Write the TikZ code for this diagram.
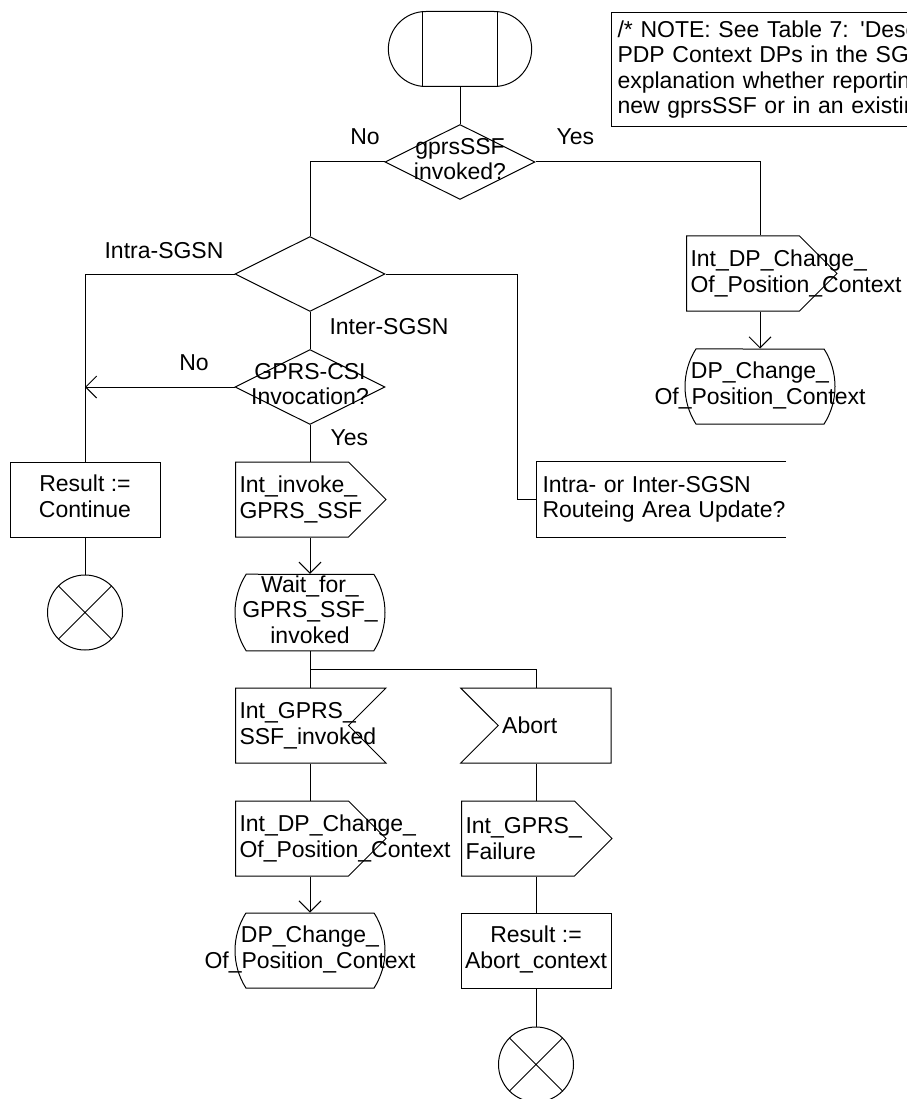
\documentclass[tikz,border=0pt]{standalone}
\usepackage{fontspec}
\setmainfont{Liberation Sans}
\usetikzlibrary{arrows.meta,positioning,calc,shapes.geometric,shapes.misc,shapes.symbols}
\newcommand{\ctrtxt}[1]{\makebox[0pt]{\begin{tabular}{@{}c@{}}#1\end{tabular}}}
\tikzset{
  dec/.style={diamond,draw,minimum width=150pt,minimum height=75pt,inner sep=0pt},
  task/.style={rectangle,draw,minimum width=150pt,minimum height=75pt,inner sep=0pt},
  sdlstate/.style={rounded rectangle,rounded rectangle arc length=65,draw,
                   minimum width=150pt,minimum height=75pt,inner sep=0pt},
  sendsig/.style={signal,signal to=east,signal pointer angle=90,draw,align=left,
                  text width=105pt,inner xsep=4pt,inner ysep=0pt,minimum height=75pt},
  recvsig/.style={signal,signal to=nowhere,signal from=east,signal pointer angle=90,draw,
                  align=left,text width=105pt,inner xsep=4pt,inner ysep=0pt,minimum height=75pt},
  stopsym/.style={circle,draw,minimum size=75pt,inner sep=0pt},
  lbl/.style={inner sep=0pt},
  flow/.style={-{Straight Barb[length=11pt,width=22pt]}}}

\begin{document}
\begin{tikzpicture}[x=1pt,y=-1pt,line width=1pt,font=\fontsize{23}{25.5}\selectfont]
  \useasboundingbox (0,0) rectangle (906,1099);
  % start, note, first decision
  \node[rounded rectangle,draw,minimum width=150pt,minimum height=75pt] (start) at (460,49){};
  \draw ([xshift=-37.5pt]start.north) -- ([xshift=-37.5pt]start.south)
        ([xshift=37.5pt]start.north) -- ([xshift=37.5pt]start.south);
  \node[draw,anchor=north west,text width=400pt,minimum height=114pt,inner xsep=6pt,align=left] (note) at (611,12)
    {/* NOTE: See Table 7: \textquotesingle Desc\\PDP Context DPs in the SG\\explanation whether reportin\\new gprsSSF or in an existin};
  \node[dec] (d1) at (460,162){\ctrtxt{gprsSSF\\invoked?}};
  \node[lbl] (no1) at (365,137){No};
  \node[lbl,anchor=west] (yes1) at (556,137){Yes};
  % right branch
  \node[sendsig,anchor=west] (sig1) at (686,273.5){Int\_DP\_Change\_\\Of\_Position\_Context};
  \node[sdlstate] (st1) at (760,386.5){\ctrtxt{DP\_Change\_\\Of\_Position\_Context}};
  % routeing area decision
  \node[dec] (d2) at (310,274){};
  \node[lbl] (intra) at (164,251){Intra-SGSN};
  \node[lbl,anchor=west] (inter) at (329,327){Inter-SGSN};
  \coordinate (rbend) at (517,274);
  \node[anchor=west,text width=237pt,inner xsep=6pt,minimum height=75pt,align=left] (rau) at (536,499.5)
    {\mbox{Intra- or Inter-SGSN}\\\mbox{Routeing Area Update?}};
  \draw (rau.north east) -- (rau.north west) -- (rau.south west) -- (rau.south east);
  \node[dec] (d3) at (310,387){\ctrtxt{GPRS-CSI\\Invocation?}};
  \node[lbl] (no2) at (194,363){No};
  \node[lbl,anchor=west] (yes2) at (330,438){Yes};
  % left column
  \node[task] (rcont) at (85,499.5){\ctrtxt{Result :=\\Continue}};
  \node[stopsym] (stop1) at (85,612.5){};
  \draw (stop1.45) -- (stop1.225) (stop1.135) -- (stop1.315);
  % middle column
  \node[sendsig,anchor=west] (invoke) at (235,499.5){Int\_invoke\_\\GPRS\_SSF};
  \node[sdlstate] (wait) at (310,612.5){\ctrtxt{Wait\_for\_\\GPRS\_SSF\_\\invoked}};
  \coordinate (split) at (310,669);
  \node[recvsig,anchor=west] (ssfinv) at (235,725.5){Int\_GPRS\_\\SSF\_invoked};
  \node[sendsig,anchor=west] (dpc2) at (235,838.5){Int\_DP\_Change\_\\Of\_Position\_Context};
  \node[sdlstate] (st2) at (310,950.5){\ctrtxt{DP\_Change\_\\Of\_Position\_Context}};
  % abort column
  \node[recvsig,signal from=west,anchor=west] (abort) at (497.5,725.5){Abort};
  \node[sendsig,anchor=west] (fail) at (461,838.5){Int\_GPRS\_\\Failure};
  \node[task] (rabort) at (536,950.5){\ctrtxt{Result :=\\Abort\_context}};
  \node[stopsym] (stop2) at (536,1064.5){};
  \draw (stop2.45) -- (stop2.225) (stop2.135) -- (stop2.315);
  % connectors
  \draw (start) -- (d1);
  \draw (d1.west) -| (d2.north);
  \draw (d1.east) -| (st1.north |- sig1.north);
  \draw[flow] (st1.north |- sig1.south) -- (st1.north);
  \draw (d2.west) -| (rcont.north);
  \draw (d2.east) -- (rbend) |- (rau.west);
  \draw (d2) -- (d3);
  \draw[flow] (d3.west) -- (d3.west -| rcont.north);
  \draw (d3) -- (d3.south |- invoke.north);
  \draw (rcont) -- (stop1);
  \draw[flow] (wait.north |- invoke.south) -- (wait.north);
  \draw (wait.south) -- (wait.south |- ssfinv.north);
  \draw (split) -| (rabort.north |- abort.north);
  \draw (wait.south |- ssfinv.south) -- (wait.south |- dpc2.north);
  \draw[flow] (st2.north |- dpc2.south) -- (st2.north);
  \draw (rabort.north |- abort.south) -- (rabort.north |- fail.north);
  \draw (rabort.north |- fail.south) -- (rabort.north);
  \draw (rabort) -- (stop2);
\end{tikzpicture}
\end{document}
